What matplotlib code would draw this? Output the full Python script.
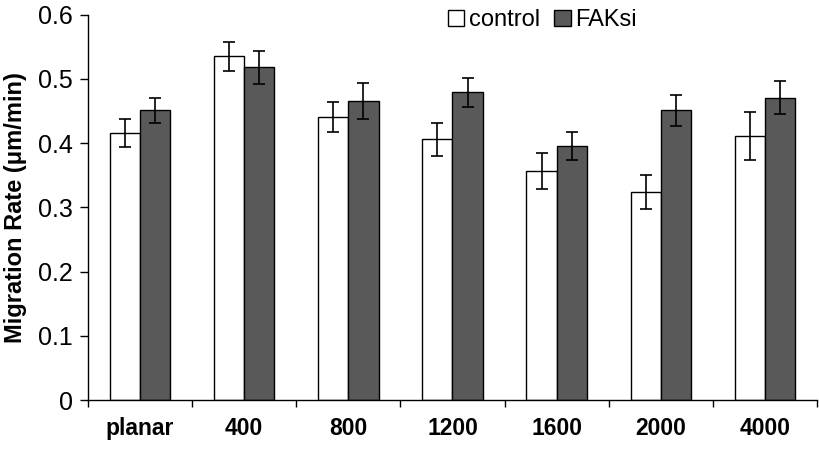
import numpy as np
import matplotlib
matplotlib.use("Agg")
import matplotlib.pyplot as plt

# --- data ---
categories = ["planar", "400", "800", "1200", "1600", "2000", "4000"]
control = [0.416, 0.535, 0.441, 0.406, 0.356, 0.324, 0.411]
control_err = [0.022, 0.023, 0.023, 0.026, 0.028, 0.026, 0.038]
faksi = [0.451, 0.518, 0.466, 0.479, 0.396, 0.451, 0.471]
faksi_err = [0.020, 0.026, 0.028, 0.023, 0.022, 0.024, 0.025]

plt.rcParams["font.family"] = ["Liberation Sans", "DejaVu Sans"]


def main():
    fig = plt.figure(figsize=(8.19, 4.49), dpi=100)
    ax = fig.add_axes([0.1074, 0.1091, 0.8902, 0.8582])

    x = np.arange(len(categories))
    w = 0.29
    err_style = dict(ecolor="black", elinewidth=1.2, capsize=4, capthick=1.2)

    ax.bar(x - w / 2, control, w, color="white", edgecolor="black",
           linewidth=1.0, label="control", yerr=control_err, error_kw=err_style)
    ax.bar(x + w / 2, faksi, w, color="#595959", edgecolor="black",
           linewidth=1.0, label="FAKsi", yerr=faksi_err, error_kw=err_style)

    ax.set_xlim(-0.5, len(categories) - 0.5)
    ax.set_ylim(0, 0.6)
    ax.set_yticks(np.arange(0, 0.61, 0.1))
    ax.set_yticklabels(["0", "0.1", "0.2", "0.3", "0.4", "0.5", "0.6"])

    # ticks on group boundaries, labels at group centres
    ax.set_xticks(np.arange(-0.5, len(categories), 1.0))
    ax.set_xticklabels([])
    ax.set_xticks(x, minor=True)
    ax.set_xticklabels(categories, minor=True)
    ax.tick_params(axis="x", which="major", direction="out", length=5, width=1)
    ax.tick_params(axis="x", which="minor", length=0, pad=12, labelsize=16.5)
    for lab in ax.get_xticklabels(minor=True):
        lab.set_fontweight("bold")
    ax.tick_params(axis="y", direction="out", length=6, width=1, pad=5,
                   labelsize=18)

    for side in ["top", "right"]:
        ax.spines[side].set_visible(False)
    for side in ["left", "bottom"]:
        ax.spines[side].set_linewidth(1.0)

    ax.set_ylabel("Migration Rate (μm/min)", fontweight="bold", fontsize=17,
                  labelpad=8)

    ax.legend(loc="upper left", bbox_to_anchor=(0.535, 1.0),
              bbox_transform=fig.transFigure, ncol=2, frameon=False,
              fontsize=17, handlelength=0.7, handleheight=0.7,
              handletextpad=0.2, columnspacing=0.6, borderaxespad=0)

    fig.savefig("out.png", dpi=100)


if __name__ == "__main__":
    main()
